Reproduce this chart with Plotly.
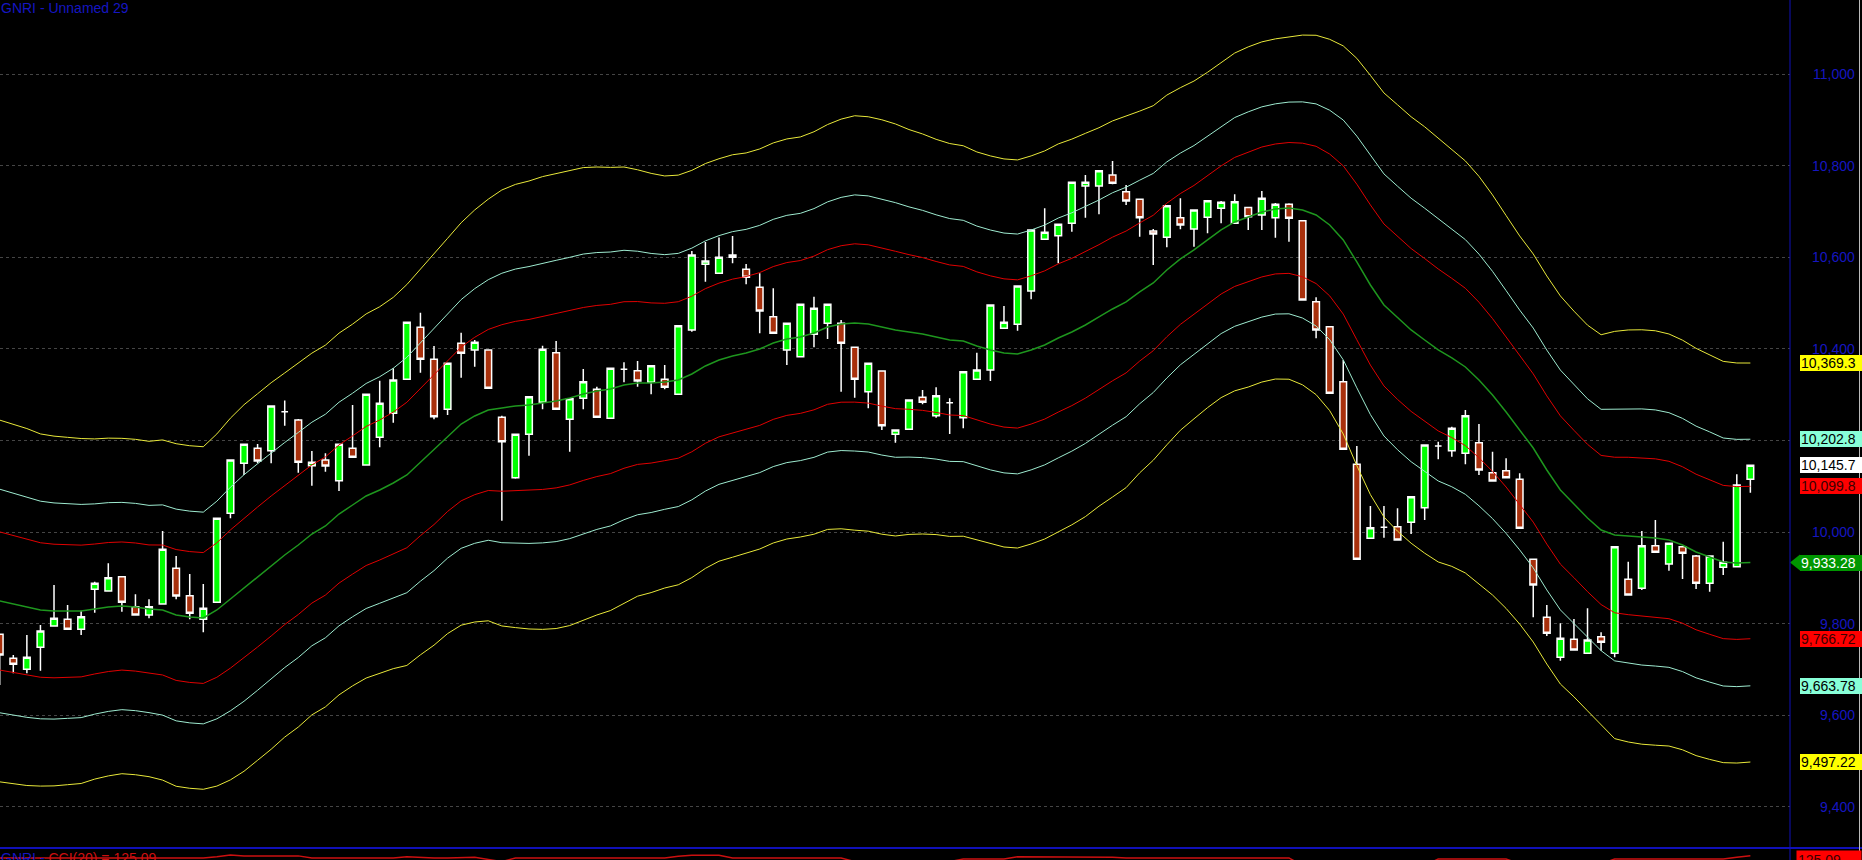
import plotly.graph_objects as go

# ---------------- data ----------------
opens = [9776.4, 9723.9, 9699.9, 9747.9, 9794.5, 9809.2, 9787.3, 9874.7, 9871.0, 9902.3,
         9836.7, 9818.6, 9842.6, 9920.6, 9860.8, 9809.2, 9846.3, 10040.9, 10150.2, 10183.0,
         10177.7, 10263.0, 10244.8, 10144.9, 10157.4, 10112.1, 10183.0, 10146.5, 10207.0, 10259.5,
         10333.8, 10447.5, 10377.5, 10268.2, 10412.5, 10397.9, 10397.9, 10250.7, 10118.7, 10213.6,
         10283.5, 10392.0, 10246.4, 10292.3, 10312.0, 10248.6, 10355.7, 10352.6, 10327.3, 10333.8,
         10301.0, 10441.6, 10585.2, 10565.5, 10600.5, 10574.3, 10534.9, 10470.7, 10397.9, 10383.2,
         10432.2, 10456.2, 10456.2, 10403.8, 10306.7, 10351.9, 10213.6, 10224.5, 10294.5, 10254.2,
         10282.7, 10249.9, 10333.8, 10354.1, 10445.3, 10454.0, 10526.8, 10639.9, 10647.7, 10674.8,
         10756.4, 10756.4, 10780.4, 10743.9, 10727.3, 10658.0, 10644.2, 10687.1, 10662.4, 10687.9,
         10707.6, 10674.8, 10709.0, 10693.0, 10687.1, 10716.4, 10680.5, 10503.4, 10448.8, 10328.6,
         10148.0, 9986.2, 10010.3, 10011.6, 10021.2, 10053.1, 10188.0, 10177.7, 10172.0, 10195.2,
         10129.6, 10134.0, 10115.2, 9940.3, 9813.5, 9726.1, 9765.4, 9734.8, 9771.1, 9734.8,
         9896.6, 9876.9, 9970.1, 9930.0, 9967.9, 9947.5, 9887.9, 9922.8, 9924.1, 10115.2]
highs = [9778.0, 9731.0, 9774.8, 9796.7, 9884.1, 9840.4, 9827.9, 9891.4, 9931.6, 9902.3,
         9863.8, 9852.9, 10002.2, 9947.5, 9908.2, 9886.3, 10030.0, 10157.4, 10191.7, 10192.4,
         10275.4, 10287.5, 10247.0, 10177.1, 10172.0, 10191.7, 10277.6, 10301.0, 10330.7, 10357.9,
         10458.4, 10479.4, 10406.6, 10368.8, 10435.7, 10419.7, 10397.9, 10254.2, 10213.6, 10295.8,
         10407.3, 10417.5, 10291.4, 10356.3, 10317.6, 10357.9, 10371.0, 10373.8, 10363.5, 10365.0,
         10451.0, 10614.0, 10634.0, 10643.8, 10647.0, 10585.8, 10565.5, 10532.7, 10456.2, 10497.7,
         10514.4, 10497.7, 10463.4, 10403.8, 10368.8, 10351.9, 10223.0, 10288.6, 10310.4, 10316.3,
         10292.3, 10350.4, 10392.0, 10496.2, 10494.0, 10537.8, 10660.2, 10707.6, 10672.6, 10764.4,
         10780.4, 10789.8, 10811.0, 10758.5, 10727.3, 10662.4, 10713.3, 10729.5, 10703.9, 10724.2,
         10723.6, 10738.2, 10709.0, 10745.4, 10719.0, 10718.5, 10680.5, 10513.0, 10448.8, 10376.0,
         10188.0, 10056.8, 10056.8, 10051.8, 10077.2, 10190.2, 10197.4, 10230.2, 10266.7, 10236.1,
         10175.5, 10161.1, 10128.3, 9940.3, 9840.4, 9800.4, 9809.8, 9833.2, 9780.7, 9967.9,
         9935.1, 10002.2, 10026.2, 9975.3, 9967.9, 9949.7, 9947.5, 9978.8, 10126.1, 10146.5]
lows = [9665.5, 9691.1, 9691.1, 9696.8, 9794.5, 9785.8, 9774.8, 9823.6, 9871.0, 9825.8,
        9818.6, 9811.3, 9842.6, 9852.9, 9809.2, 9780.7, 9846.3, 10029.9, 10124.6, 10150.2,
        10150.2, 10232.0, 10129.6, 10101.2, 10131.8, 10089.6, 10163.3, 10146.5, 10185.2, 10238.9,
        10333.8, 10348.2, 10246.4, 10255.8, 10337.3, 10361.4, 10314.1, 10024.7, 10116.5, 10166.8,
        10268.2, 10268.2, 10175.5, 10268.2, 10250.7, 10248.6, 10327.3, 10317.6, 10301.0, 10312.0,
        10301.0, 10437.9, 10547.2, 10565.5, 10587.4, 10541.5, 10434.4, 10434.4, 10365.0, 10383.2,
        10403.8, 10421.9, 10306.7, 10293.6, 10270.4, 10223.0, 10195.2, 10224.5, 10279.2, 10249.9,
        10214.2, 10226.7, 10333.8, 10330.1, 10445.3, 10440.0, 10508.7, 10639.9, 10587.4, 10656.5,
        10687.1, 10694.5, 10760.1, 10714.8, 10645.5, 10583.6, 10622.4, 10661.7, 10623.7, 10653.0,
        10674.8, 10674.8, 10660.2, 10660.2, 10643.3, 10634.6, 10507.2, 10423.4, 10303.2, 10180.8,
        9940.3, 9986.2, 9987.5, 9982.5, 9995.6, 10026.2, 10158.9, 10164.6, 10148.0, 10124.6,
        10111.5, 10118.7, 10008.1, 9813.5, 9772.7, 9718.7, 9742.0, 9734.8, 9740.5, 9726.1,
        9862.3, 9873.2, 9955.6, 9915.4, 9897.3, 9875.4, 9869.5, 9906.0, 9924.1, 10085.9]
closes = [9731.0, 9710.8, 9726.1, 9783.6, 9811.3, 9787.3, 9814.8, 9887.9, 9900.1, 9846.3,
          9818.6, 9836.7, 9962.2, 9860.1, 9822.3, 9833.2, 10029.9, 10157.4, 10191.7, 10155.2,
          10275.4, 10263.0, 10152.4, 10152.4, 10144.3, 10191.7, 10163.3, 10301.0, 10281.3, 10332.3,
          10458.4, 10377.5, 10252.0, 10368.8, 10390.6, 10414.7, 10314.1, 10197.4, 10213.6, 10295.8,
          10399.4, 10268.2, 10291.4, 10328.6, 10250.7, 10357.9, 10355.7, 10330.1, 10363.5, 10316.3,
          10451.0, 10605.5, 10592.4, 10600.5, 10605.5, 10556.8, 10483.1, 10434.4, 10456.2, 10497.7,
          10489.0, 10497.7, 10412.5, 10333.8, 10368.8, 10232.4, 10223.0, 10288.6, 10283.5, 10297.9,
          10282.7, 10350.4, 10354.1, 10496.2, 10458.4, 10537.8, 10660.2, 10655.2, 10672.6, 10764.4,
          10764.4, 10789.8, 10762.3, 10723.6, 10687.1, 10651.4, 10713.3, 10671.1, 10703.9, 10724.2,
          10720.7, 10722.0, 10689.3, 10729.5, 10716.4, 10685.7, 10507.2, 10441.6, 10303.2, 10180.8,
          9940.3, 10009.4, 10010.3, 9982.5, 10077.2, 10190.2, 10188.0, 10226.7, 10254.2, 10135.5,
          10111.5, 10118.7, 10008.1, 9884.1, 9778.6, 9767.6, 9742.0, 9763.9, 9758.9, 9967.9,
          9862.3, 9970.1, 9955.6, 9975.3, 9953.4, 9887.9, 9947.5, 9933.8, 10102.7, 10145.7]

# middle line (green) and band unit (distance of the red bands from the middle)
mid_line = [9849.2, 9842.6, 9836.0, 9829.5, 9827.3, 9827.3, 9827.3, 9831.7, 9836.0, 9838.2,
            9836.0, 9831.7, 9829.5, 9818.6, 9814.2, 9812.0, 9829.5, 9853.5, 9877.6, 9901.6,
            9925.7, 9949.7, 9971.6, 9995.6, 10013.1, 10039.3, 10059.0, 10078.7, 10091.8, 10107.1,
            10124.6, 10153.0, 10179.3, 10209.9, 10236.1, 10253.6, 10266.7, 10271.1, 10275.4, 10277.6,
            10282.0, 10286.4, 10292.9, 10301.7, 10308.2, 10312.6, 10321.3, 10325.7, 10325.7, 10327.9,
            10332.3, 10345.4, 10362.9, 10376.0, 10384.7, 10391.3, 10400.0, 10413.2, 10421.9, 10426.3,
            10435.0, 10448.1, 10454.7, 10456.9, 10454.7, 10448.1, 10441.6, 10437.2, 10432.8, 10426.3,
            10419.7, 10417.5, 10406.6, 10397.9, 10391.3, 10389.1, 10397.9, 10408.8, 10424.1, 10437.2,
            10452.5, 10470.0, 10487.5, 10502.8, 10524.6, 10544.3, 10572.7, 10596.8, 10616.5, 10638.3,
            10660.2, 10677.7, 10688.6, 10699.5, 10706.1, 10708.3, 10703.9, 10693.0, 10671.1, 10638.3,
            10590.2, 10539.9, 10496.2, 10467.8, 10441.6, 10419.7, 10397.9, 10380.4, 10360.7, 10332.3,
            10299.5, 10262.3, 10223.0, 10183.6, 10135.5, 10091.8, 10061.2, 10030.6, 10004.4, 9993.4,
            9991.3, 9989.1, 9986.9, 9982.5, 9971.6, 9956.3, 9945.4, 9934.4, 9932.2, 9933.28]
band_unit = [151, 150, 149, 147, 146, 145, 144, 142, 141, 140,
             140, 140, 142, 143, 143, 143, 147, 151, 153, 153,
             153, 152, 152, 151, 151, 151, 151, 152, 153, 155,
             159, 161, 163, 165, 168, 172, 176, 182, 185, 187,
             189, 190, 190, 189, 187, 185, 182, 178, 175, 172,
             171, 170, 169, 168, 168, 167, 167, 167, 167, 167,
             168, 169, 171, 173, 173, 173, 172, 169, 167, 165,
             164, 163, 162, 162, 162, 162, 162, 162, 162, 161,
             160, 158, 157, 155, 151, 148, 146, 143, 141, 140,
             140, 141, 142, 142, 142, 143, 146, 150, 155, 162,
             170, 175, 177, 178, 178, 178, 177, 174, 172, 170,
             167, 164, 162, 162, 162, 162, 161, 161, 163, 170,
             172, 173, 173, 172, 171, 170, 169, 167.5, 167, 166.56]
band_mult = [2.61803, 1.61803, 1.0]
band_colors = ["#E8E83A", "#9EEBD0", "#E00000"]

cci = [88] * 16 + [110, 140, 125, 125, 125, 125, 125] + [88] * 7 + [110, 95, 88, 88, 100, 100, 60, 20] + \
      [88] * 12 + [120, 135, 135, 135] + [88] * 9 + [20] * 8 + [68] * 4 + [110, 110] + [100] * 6 + \
      [88] * 13 + [-50] * 10 + [68] * 6 + [-20] * 7 + [68] * 9 + [100, 125.09]

tick_vals = [9400, 9600, 9800, 10000, 10200, 10400, 10600, 10800, 11000]
# the 10,200 label is hidden behind the 10,202.8 value box in the reference
tick_text = ["9,400", "9,600", "9,800", "10,000", "", "10,400", "10,600", "10,800", "11,000"]

title_text = "GNRI - Unnamed 29"
cci_name = "CCI(20) = 125.09"
cci_last = "125.09"

x = list(range(len(closes)))
assert len(opens) == len(highs) == len(lows) == len(closes) == len(mid_line) == len(band_unit) == len(cci) == 130

# ---------------- geometry ----------------
W, H = 1862, 860
PLOT_W = 1790           # plot area width (blue axis line)
MAIN_BOTTOM_PX = 848    # blue separator line
y_range = [9309.3, 11162.8]
x_range = [0.02, 131.92]
FONT = "Liberation Sans, Arial, sans-serif"
BLUE = "#1616C0"

fig = go.Figure()

fig.add_trace(go.Candlestick(
    x=x, open=opens, high=highs, low=lows, close=closes,
    increasing=dict(line=dict(color="#FFFFFF", width=1.5), fillcolor="#00FF00"),
    decreasing=dict(line=dict(color="#FFFFFF", width=1.5), fillcolor="#A8300C"),
    whiskerwidth=0, showlegend=False, hoverinfo="skip",
))

for k, col in zip(band_mult, band_colors):
    up = [m + k * u for m, u in zip(mid_line, band_unit)]
    dn = [m - k * u for m, u in zip(mid_line, band_unit)]
    for ys in (up, dn):
        fig.add_trace(go.Scatter(x=x, y=ys, mode="lines", line=dict(color=col, width=1),
                                 showlegend=False, hoverinfo="skip"))
fig.add_trace(go.Scatter(x=x, y=mid_line, mode="lines", line=dict(color="#1E961E", width=1.5),
                         showlegend=False, hoverinfo="skip"))

fig.add_trace(go.Scatter(x=x, y=cci, mode="lines", line=dict(color="#CC1010", width=1.5),
                         yaxis="y2", showlegend=False, hoverinfo="skip"))

dom0 = (H - MAIN_BOTTOM_PX) / H
fig.update_layout(
    width=W, height=H,
    margin=dict(l=0, r=W - PLOT_W, t=0, b=0, pad=0),
    paper_bgcolor="#000000", plot_bgcolor="#000000",
    showlegend=False,
    xaxis=dict(range=x_range, visible=False, rangeslider=dict(visible=False), fixedrange=True),
    yaxis=dict(domain=[dom0, 1], range=y_range, tickvals=tick_vals, showticklabels=False,
               showgrid=True, gridcolor="#454545", griddash="dot", gridwidth=1,
               zeroline=False, showline=False, ticks=""),
    yaxis2=dict(domain=[0, 11 / H], range=[50, 250], visible=False),
)

# tick labels on the right (right aligned)
px = 1.0 / PLOT_W
for v, t in zip(tick_vals, tick_text):
    if not t:
        continue
    fig.add_annotation(x=1857 * px, xref="paper", y=v, yref="y", text=t, showarrow=False,
                       xanchor="right", yanchor="middle", font=dict(family=FONT, size=14, color=BLUE))

# value labels at the last bar
last = len(closes) - 1
labels = [
    (mid_line[last] + band_mult[0] * band_unit[last], "#FFFF00", "#000000"),
    (mid_line[last] + band_mult[1] * band_unit[last], "#88FFD8", "#000000"),
    (closes[last], "#FFFFFF", "#000000"),
    (mid_line[last] + band_mult[2] * band_unit[last], "#FF0000", "#3A0000"),
    (mid_line[last], "#009600", "#FFFFFF"),
    (mid_line[last] - band_mult[2] * band_unit[last], "#FF0000", "#3A0000"),
    (mid_line[last] - band_mult[1] * band_unit[last], "#88FFD8", "#000000"),
    (mid_line[last] - band_mult[0] * band_unit[last], "#FFFF00", "#000000"),
]
for v, bg, fg in labels:
    txt = f"{v:,.2f}" if v < 10000 else f"{v:,.1f}"
    fig.add_annotation(x=1800 * px, xref="paper", y=v, yref="y", text=txt, showarrow=False,
                       xanchor="left", yanchor="middle", align="left", width=62, height=14,
                       bgcolor=bg, borderwidth=0, borderpad=1,
                       font=dict(family=FONT, size=14, color=fg))

# arrow tip of the middle-line label
unit_px = (y_range[1] - y_range[0]) / MAIN_BOTTOM_PX
mv = mid_line[last]
fig.add_shape(type="path", xref="paper", yref="y",
              path=f"M {1790*px},{mv} L {1800*px},{mv + 8*unit_px} L {1800*px},{mv - 8*unit_px} Z",
              fillcolor="#009600", line=dict(width=0), layer="above")

# frame lines
fig.add_shape(type="line", xref="paper", yref="paper", x0=1.0, x1=1.0, y0=0, y1=1,
              line=dict(color="#1010B8", width=1), layer="above")
fig.add_shape(type="line", xref="paper", yref="paper", x0=0, x1=W * px, y0=dom0, y1=dom0,
              line=dict(color="#1010B8", width=2), layer="above")
fig.add_shape(type="line", xref="paper", yref="paper", x0=1859.5 * px, x1=1859.5 * px, y0=0, y1=1,
              line=dict(color="#BBBBBB", width=1), layer="above")

# title
fig.add_annotation(x=0, xref="paper", y=1, yref="paper", text=title_text, showarrow=False,
                   xanchor="left", yanchor="top", borderpad=0, yshift=1,
                   font=dict(family=FONT, size=14, color=BLUE))

# CCI panel caption (cut off at the bottom edge, as in the reference)
fig.add_annotation(x=0, xref="paper", y=(H - 849) / H, yref="paper",
                   text=f"<span style='color:{BLUE}'>GNRI - </span><span style='color:#CC1010'>{cci_name}</span>",
                   showarrow=False, xanchor="left", yanchor="top", borderpad=0,
                   font=dict(family=FONT, size=14, color="#CC1010"))
fig.add_annotation(x=1796 * px, xref="paper", y=(H - 850) / H, yref="paper", text=cci_last,
                   showarrow=False, xanchor="left", yanchor="top", align="left", width=62,
                   bgcolor="#FF0000", borderpad=1, font=dict(family=FONT, size=14, color="#3A0000"))

fig.write_html("out.html",
               config={"displayModeBar": False},
               post_script="document.body.style.margin='0';document.body.style.overflow='hidden';"
                           "document.body.style.background='#000';")
